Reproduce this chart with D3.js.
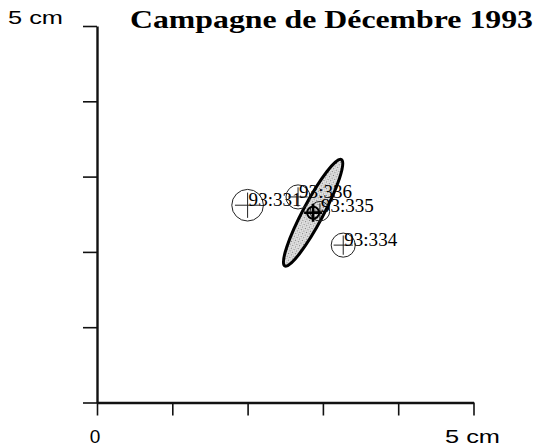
<!DOCTYPE html>
<html>
<head>
<meta charset="utf-8">
<script src="https://cdn.jsdelivr.net/npm/d3@7"></script>
<style>
  html, body { margin: 0; padding: 0; background: #fff; }
  svg { display: block; }
</style>
</head>
<body>
<svg id="chart" width="538" height="448"></svg>
<script>
// Station positions (cm) with their error-circle radii, December 1993 campaign
const stations = ["93:331", "93:336", "93:335", "93:334"];
const stationX = [2.00, 2.67, 2.96, 3.27];
const stationY = [2.62, 2.73, 2.54, 2.09];
const stationR = [0.21, 0.16, 0.13, 0.16];

// Mean position and its error ellipse (semi-axes in cm, rotation in degrees)
const meanX = [2.87];
const meanY = [2.52];
const ellipseA = [0.80];
const ellipseB = [0.135];
const ellipseAngle = [62];

const axisTicks = [0, 1, 2, 3, 4, 5];
const title = "Campagne de Décembre 1993";
const unitLabel = "5 cm";
const zeroLabel = "0";

const svg = d3.select("#chart");
const x = d3.scaleLinear().domain([0, 5]).range([97, 473.5]);
const y = d3.scaleLinear().domain([0, 5]).range([402.5, 26]);
const k = x(1) - x(0); // px per cm

// stipple pattern for the ellipse fill
const defs = svg.append("defs");
const pat = defs.append("pattern").attr("id", "stip")
  .attr("width", 3).attr("height", 3).attr("patternUnits", "userSpaceOnUse");
pat.append("rect").attr("width", 3).attr("height", 3).attr("fill", "#e6e6e6");
pat.append("rect").attr("x", 0).attr("y", 0).attr("width", 1).attr("height", 1).attr("fill", "#777");
pat.append("rect").attr("x", 1.5).attr("y", 1.5).attr("width", 1).attr("height", 1).attr("fill", "#999");

// axes
const xAxis = d3.axisBottom(x).tickValues(axisTicks).tickSize(13).tickSizeOuter(0).tickFormat("");
const yAxis = d3.axisLeft(y).tickValues(axisTicks).tickSize(14).tickSizeOuter(0).tickFormat("");
const gx = svg.append("g").attr("transform", `translate(0,${y(0)})`).call(xAxis);
const gy = svg.append("g").attr("transform", `translate(${x(0)},0)`).call(yAxis);
[gx, gy].forEach(g => {
  g.select(".domain").attr("stroke", "#111").attr("stroke-width", 2.4);
  g.selectAll(".tick line").attr("stroke", "#111").attr("stroke-width", 1.6);
});

// axis labels
svg.append("text").attr("x", x(0) - 2).attr("y", y(0) + 40)
  .attr("text-anchor", "middle")
  .style("font-family", "'Liberation Sans', Arial, sans-serif").style("font-size", "19px")
  .text(zeroLabel);
svg.append("text").attr("x", x(5) - 1).attr("y", y(0) + 40)
  .attr("text-anchor", "middle")
  .attr("textLength", 55).attr("lengthAdjust", "spacingAndGlyphs")
  .style("font-family", "'Liberation Sans', Arial, sans-serif").style("font-size", "19px")
  .text(unitLabel);
svg.append("text").attr("x", 8).attr("y", y(5) - 2)
  .attr("textLength", 55).attr("lengthAdjust", "spacingAndGlyphs")
  .style("font-family", "'Liberation Sans', Arial, sans-serif").style("font-size", "19px")
  .text(unitLabel);

// title
svg.append("text").attr("x", 130).attr("y", 28)
  .attr("textLength", 403).attr("lengthAdjust", "spacingAndGlyphs")
  .style("font-family", "'Liberation Serif', 'Times New Roman', serif")
  .style("font-size", "26px").style("font-weight", "bold")
  .text(title);

// error ellipse of the mean
svg.append("ellipse")
  .attr("cx", 0).attr("cy", 0)
  .attr("rx", ellipseA[0] * k).attr("ry", ellipseB[0] * k)
  .attr("transform", `translate(${x(meanX[0])},${y(meanY[0])}) rotate(${-ellipseAngle[0]})`)
  .attr("fill", "url(#stip)").attr("stroke", "#000").attr("stroke-width", 3);

// stations: circle, cross, label
const st = svg.append("g").selectAll("g").data(stations).join("g")
  .attr("transform", (d, i) => `translate(${x(stationX[i])},${y(stationY[i])})`);
st.append("circle").attr("r", (d, i) => stationR[i] * k)
  .attr("fill", "none").attr("stroke", "#222").attr("stroke-width", 1);
st.append("path")
  .attr("d", (d, i) => { const a = stationR[i] * k * 0.8; return `M${-a},0H${a}M0,${-a}V${a}`; })
  .attr("stroke", "#222").attr("stroke-width", 1);
st.append("text").attr("x", 1).attr("y", 1)
  .attr("textLength", 53).attr("lengthAdjust", "spacingAndGlyphs")
  .style("font-family", "'Liberation Serif', 'Times New Roman', serif").style("font-size", "19px")
  .text(d => d);

// mean position marker
const m = svg.append("g").attr("transform", `translate(${x(meanX[0])},${y(meanY[0])})`);
m.append("circle").attr("r", 6).attr("fill", "none").attr("stroke", "#000").attr("stroke-width", 2);
m.append("path").attr("d", "M-9,0H9M0,-9V9").attr("stroke", "#000").attr("stroke-width", 2.6);
</script>
</body>
</html>
